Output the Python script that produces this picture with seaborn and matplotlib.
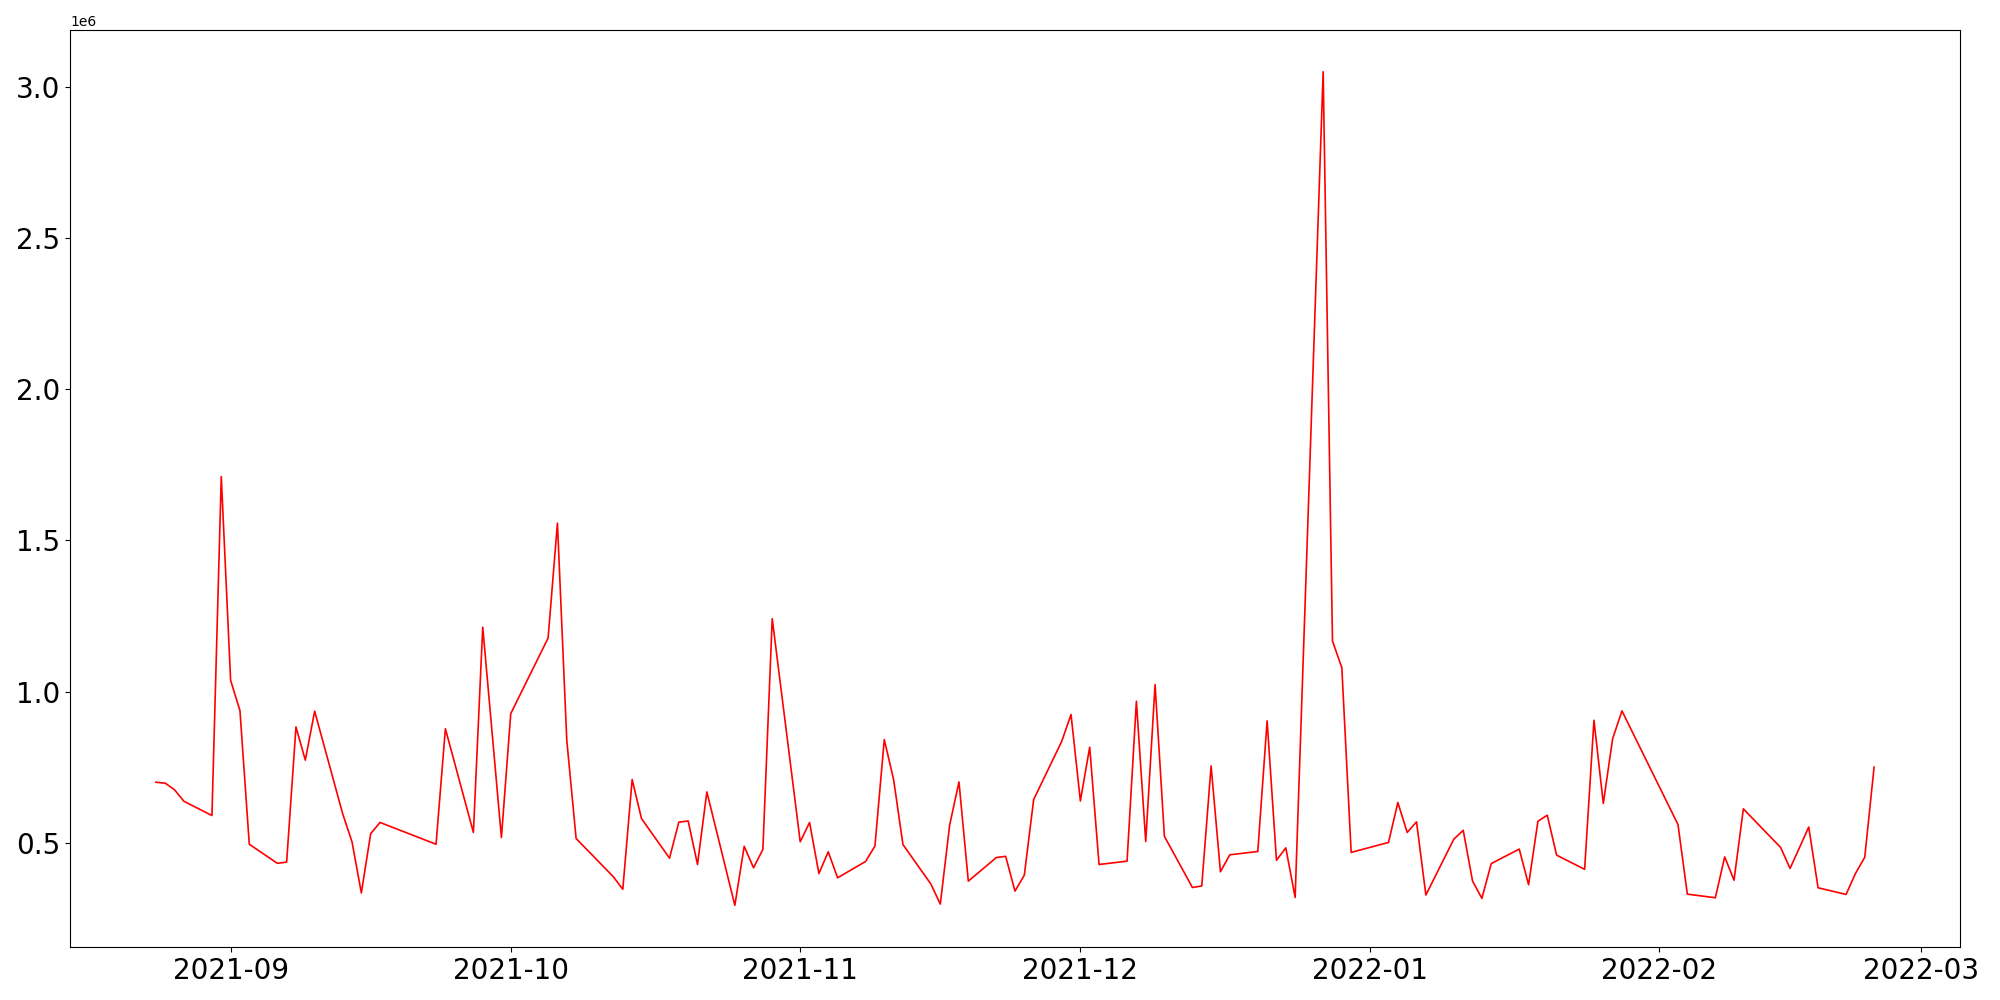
import matplotlib
matplotlib.use("Agg")
import matplotlib.pyplot as plt
import seaborn as sns
import pandas as pd

dates = [
    "2021-08-24", "2021-08-25", "2021-08-26", "2021-08-27", "2021-08-30", "2021-08-31",
    "2021-09-01", "2021-09-02", "2021-09-03", "2021-09-06", "2021-09-07", "2021-09-08",
    "2021-09-09", "2021-09-10", "2021-09-13", "2021-09-14", "2021-09-15", "2021-09-16",
    "2021-09-17", "2021-09-23", "2021-09-24", "2021-09-27", "2021-09-28", "2021-09-30",
    "2021-10-01", "2021-10-05", "2021-10-06", "2021-10-07", "2021-10-08", "2021-10-12",
    "2021-10-13", "2021-10-14", "2021-10-15", "2021-10-18", "2021-10-19", "2021-10-20",
    "2021-10-21", "2021-10-22", "2021-10-25", "2021-10-26", "2021-10-27", "2021-10-28",
    "2021-10-29", "2021-11-01", "2021-11-02", "2021-11-03", "2021-11-04", "2021-11-05",
    "2021-11-08", "2021-11-09", "2021-11-10", "2021-11-11", "2021-11-12", "2021-11-15",
    "2021-11-16", "2021-11-17", "2021-11-18", "2021-11-19", "2021-11-22", "2021-11-23",
    "2021-11-24", "2021-11-25", "2021-11-26", "2021-11-29", "2021-11-30", "2021-12-01",
    "2021-12-02", "2021-12-03", "2021-12-06", "2021-12-07", "2021-12-08", "2021-12-09",
    "2021-12-10", "2021-12-13", "2021-12-14", "2021-12-15", "2021-12-16", "2021-12-17",
    "2021-12-20", "2021-12-21", "2021-12-22", "2021-12-23", "2021-12-24", "2021-12-27",
    "2021-12-28", "2021-12-29", "2021-12-30", "2022-01-03", "2022-01-04", "2022-01-05",
    "2022-01-06", "2022-01-07", "2022-01-10", "2022-01-11", "2022-01-12", "2022-01-13",
    "2022-01-14", "2022-01-17", "2022-01-18", "2022-01-19", "2022-01-20", "2022-01-21",
    "2022-01-24", "2022-01-25", "2022-01-26", "2022-01-27", "2022-01-28", "2022-02-03",
    "2022-02-04", "2022-02-07", "2022-02-08", "2022-02-09", "2022-02-10", "2022-02-14",
    "2022-02-15", "2022-02-16", "2022-02-17", "2022-02-18", "2022-02-21", "2022-02-22",
    "2022-02-23", "2022-02-24",
]

# values in millions
volume_m = [
    0.700, 0.697, 0.675, 0.637, 0.590, 1.711,
    1.037, 0.937, 0.495, 0.432, 0.436, 0.883,
    0.773, 0.935, 0.596, 0.503, 0.334, 0.530,
    0.567, 0.495, 0.877, 0.534, 1.213, 0.517,
    0.927, 1.177, 1.557, 0.839, 0.514, 0.387,
    0.346, 0.709, 0.580, 0.449, 0.568, 0.572,
    0.428, 0.668, 0.293, 0.488, 0.417, 0.478,
    1.241, 0.503, 0.567, 0.398, 0.470, 0.384,
    0.438, 0.489, 0.841, 0.709, 0.494, 0.363,
    0.297, 0.558, 0.701, 0.373, 0.451, 0.455,
    0.340, 0.393, 0.643, 0.835, 0.924, 0.638,
    0.816, 0.428, 0.439, 0.968, 0.504, 1.023,
    0.521, 0.352, 0.357, 0.754, 0.404, 0.460,
    0.471, 0.903, 0.442, 0.483, 0.319, 3.050,
    1.167, 1.079, 0.468, 0.501, 0.633, 0.534,
    0.569, 0.327, 0.512, 0.541, 0.373, 0.316,
    0.431, 0.479, 0.361, 0.571, 0.591, 0.459,
    0.412, 0.905, 0.630, 0.844, 0.936, 0.560,
    0.330, 0.318, 0.453, 0.376, 0.612, 0.484,
    0.415, 0.483, 0.552, 0.351, 0.329, 0.398,
    0.452, 0.750,
]

df = pd.DataFrame({"date": pd.to_datetime(dates), "volume": [v * 1e6 for v in volume_m]})

fig, ax = plt.subplots(figsize=(20, 10), dpi=100)
sns.lineplot(data=df, x="date", y="volume", color="red", linewidth=1.2, ax=ax)
ax.set_xlabel("")
ax.set_ylabel("")
ax.tick_params(axis="both", labelsize=20)
fig.subplots_adjust(left=0.035, right=0.98, top=0.97, bottom=0.053)
fig.savefig("out.png")
